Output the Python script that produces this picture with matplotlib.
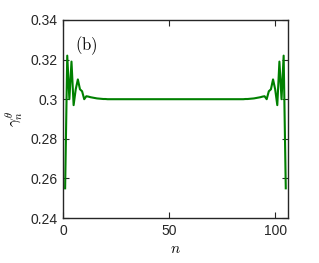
import matplotlib
matplotlib.use("Agg")
import matplotlib.pyplot as plt

plt.rcParams["font.family"] = ["Liberation Sans", "DejaVu Sans"]
plt.rcParams["mathtext.fontset"] = "cm"

# site index n = 1..105
n = list(range(1, 106))

# gamma_n^theta
gamma_left = [0.255, 0.322, 0.300, 0.319, 0.297, 0.305, 0.310, 0.305, 0.304, 0.300,
              0.3015, 0.3013, 0.3010, 0.3008, 0.3006, 0.3004, 0.3003, 0.3002, 0.3001, 0.3001]
gamma_mid = [0.300, 0.300, 0.300, 0.300, 0.300, 0.300, 0.300, 0.300, 0.300, 0.300,
             0.300, 0.300, 0.300, 0.300, 0.300, 0.300, 0.300, 0.300, 0.300, 0.300,
             0.300, 0.300, 0.300, 0.300, 0.300, 0.300, 0.300, 0.300, 0.300, 0.300,
             0.300, 0.300, 0.300, 0.300, 0.300, 0.300, 0.300, 0.300, 0.300, 0.300,
             0.300, 0.300, 0.300, 0.300, 0.300, 0.300, 0.300, 0.300, 0.300, 0.300,
             0.300, 0.300, 0.300, 0.300, 0.300, 0.300, 0.300, 0.300, 0.300, 0.300,
             0.300, 0.300, 0.300, 0.300, 0.300]
gamma_right = [0.3001, 0.3001, 0.3002, 0.3003, 0.3004, 0.3006, 0.3008, 0.3010, 0.3013, 0.3015,
               0.300, 0.304, 0.305, 0.310, 0.305, 0.297, 0.319, 0.300, 0.322, 0.255]
gamma = gamma_left + gamma_mid + gamma_right

x_ticks = [0, 50, 100]
y_ticks = [0.24, 0.26, 0.28, 0.30, 0.32, 0.34]
y_tick_labels = ["0.24", "0.26", "0.28", "0.3", "0.32", "0.34"]

fig = plt.figure(figsize=(3.19, 2.63), dpi=100)
ax = fig.add_axes([0.1975, 0.171, 0.705, 0.753])

ax.plot(n, gamma, color="#008000", linewidth=1.5)

ax.set_xlim(0, 106)
ax.set_ylim(0.24, 0.34)
ax.set_xticks(x_ticks)
ax.set_yticks(y_ticks)
ax.set_yticklabels(y_tick_labels)
ax.tick_params(direction="in", top=True, right=True, length=4.5, width=0.8,
               labelsize=10, colors="#262626", pad=4)
for sp in ax.spines.values():
    sp.set_color("#262626")
    sp.set_linewidth(1.0)

ax.set_xlabel(r"$n$", fontsize=11, labelpad=3)
ax.set_ylabel(r"$\gamma_n^\theta$", fontsize=11, labelpad=4)
ax.text(0.055, 0.93, r"$\mathrm{(b)}$", transform=ax.transAxes, fontsize=12,
        va="top", ha="left")

fig.savefig("out.png", dpi=100)
